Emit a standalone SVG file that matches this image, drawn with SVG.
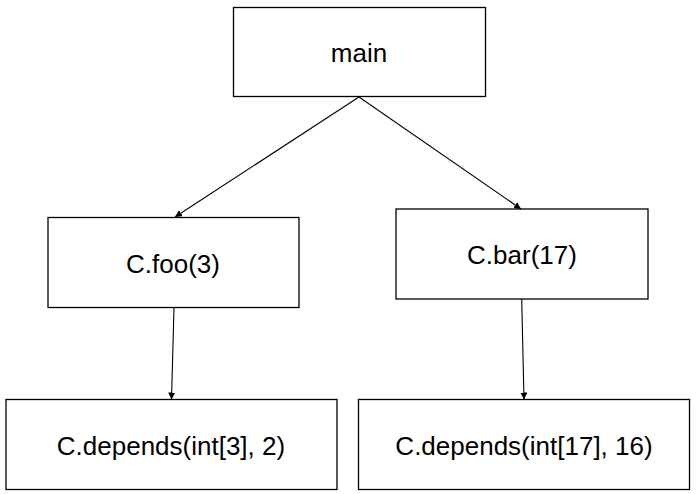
<svg xmlns="http://www.w3.org/2000/svg" width="696" height="494" viewBox="0 0 696 494">
<style>
.box{fill:#fff;stroke:#000;stroke-width:1.3}
.lbl{font-family:"Liberation Sans",Arial,sans-serif;font-size:26px;fill:#000;text-anchor:middle}
.edge{stroke:#000;stroke-width:1.1;fill:none}
</style>
<defs>
<marker id="arr" viewBox="0 0 10 10" refX="10" refY="5" markerWidth="7" markerHeight="7" markerUnits="userSpaceOnUse" orient="auto">
<path d="M0,0 L10,5 L0,10 z" fill="#000"/>
</marker>
</defs>
<rect width="696" height="494" fill="#fff"/>
<g id="n-main"><rect class="box" x="233.5" y="7.5" width="252" height="89"/><text class="lbl" x="359" y="62">main</text></g>
<g id="n-foo"><rect class="box" x="48" y="217.5" width="251" height="90"/><text class="lbl" x="173" y="273">C.foo(3)</text></g>
<g id="n-bar"><rect class="box" x="396" y="209" width="252" height="90"/><text class="lbl" x="522" y="264">C.bar(17)</text></g>
<g id="n-dep3"><rect class="box" x="6" y="399.5" width="331" height="90"/><text class="lbl" x="171" y="455">C.depends(int[3], 2)</text></g>
<g id="n-dep17"><rect class="box" x="358.5" y="399.5" width="331" height="90"/><text class="lbl" x="524" y="455">C.depends(int[17], 16)</text></g>
<g id="connectors">
<line class="edge" x1="359" y1="97" x2="175" y2="217" marker-end="url(#arr)"/>
<line class="edge" x1="359" y1="97" x2="521" y2="209" marker-end="url(#arr)"/>
<line class="edge" x1="174" y1="307.5" x2="171.5" y2="399.5" marker-end="url(#arr)"/>
<line class="edge" x1="521.7" y1="299" x2="524" y2="399.5" marker-end="url(#arr)"/>
</g>
</svg>
